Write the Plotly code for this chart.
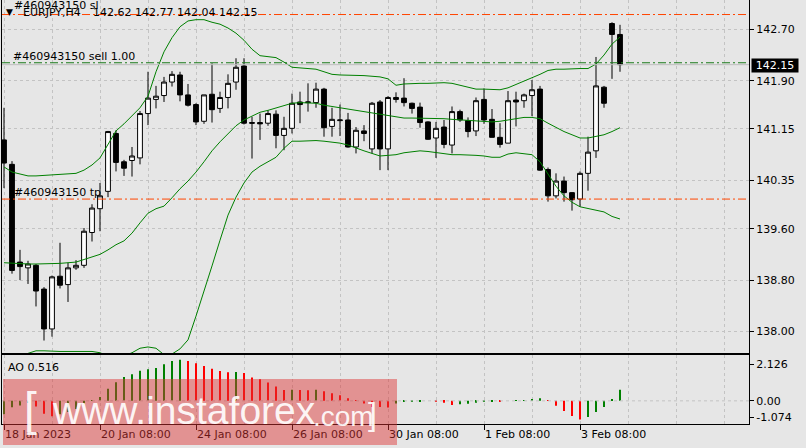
import plotly.graph_objects as go

# ---------------- data ----------------
bar_index = list(range(78))

open_ = [140.98, 140.60, 139.08, 138.99, 139.03, 138.66, 138.04, 138.86, 138.73, 138.99,
         139.03, 139.54, 139.91, 140.18, 141.08, 140.64, 140.66, 140.70, 141.39, 141.61,
         141.67, 141.88, 141.99, 141.68, 141.53, 141.27, 141.69, 141.47, 141.64, 141.88,
         142.13, 141.25, 141.25, 141.24, 141.38, 141.05, 141.16, 141.57, 141.56, 141.56,
         141.77, 141.19, 141.28, 141.29, 140.87, 141.12, 140.84, 141.57, 140.84, 141.64,
         141.63, 141.55, 141.49, 141.26, 141.01, 141.18, 140.90, 141.42, 141.28, 141.12,
         141.61, 141.30, 141.02, 140.93, 141.60, 141.59, 141.67, 141.77, 140.52, 140.11,
         140.34, 140.16, 140.06, 140.46, 140.81, 141.80, 142.79, 142.62]
high = [141.48, 140.65, 139.27, 139.10, 139.05, 138.69, 138.87, 139.38, 139.07, 139.11,
        139.61, 139.98, 140.31, 141.12, 141.13, 140.67, 140.87, 141.43, 142.04, 141.82,
        141.96, 142.05, 142.04, 141.85, 141.55, 141.68, 142.17, 141.73, 142.00, 142.25,
        142.25, 141.34, 141.39, 141.44, 141.44, 141.34, 141.70, 141.73, 141.86, 141.87,
        141.79, 141.48, 141.53, 141.40, 141.18, 141.21, 141.57, 141.60, 141.66, 141.72,
        141.94, 141.56, 141.56, 141.27, 141.26, 141.29, 141.50, 141.45, 141.33, 141.64,
        141.78, 141.46, 141.24, 141.74, 141.73, 141.70, 141.91, 141.82, 140.55, 140.46,
        140.41, 140.17, 140.49, 141.03, 142.27, 141.82, 142.81, 142.77]
low = [140.23, 138.90, 138.80, 138.74, 138.39, 137.86, 137.92, 138.67, 138.46, 138.96,
       138.99, 139.40, 139.56, 140.09, 140.49, 140.42, 140.41, 140.60, 141.21, 141.47,
       141.57, 141.81, 141.58, 141.50, 141.21, 141.23, 141.25, 141.40, 141.47, 141.76,
       141.22, 140.69, 140.98, 141.20, 140.85, 140.82, 141.08, 141.24, 141.42, 141.48,
       141.03, 141.03, 141.04, 140.86, 140.77, 140.96, 140.77, 140.51, 140.51, 141.56,
       141.50, 141.39, 141.17, 140.98, 140.70, 140.85, 140.77, 141.26, 141.02, 141.04,
       141.23, 141.02, 140.86, 140.93, 141.19, 141.48, 141.35, 140.50, 140.02, 140.07,
       140.02, 139.88, 139.94, 140.19, 140.70, 141.48, 141.93, 142.04]
close = [140.62, 138.95, 139.01, 139.05, 138.63, 138.04, 138.85, 138.72, 138.99, 139.03,
         139.56, 139.92, 140.11, 141.11, 140.63, 140.54, 140.73, 141.39, 141.63, 141.66,
         141.88, 142.00, 141.68, 141.52, 141.26, 141.68, 141.45, 141.64, 141.86, 142.11,
         141.24, 141.24, 141.23, 141.39, 141.05, 141.16, 141.55, 141.53, 141.57, 141.77,
         141.17, 141.30, 141.29, 140.87, 141.13, 141.08, 141.55, 140.84, 141.64, 141.61,
         141.56, 141.47, 141.25, 140.99, 141.16, 140.91, 141.42, 141.29, 141.11, 141.59,
         141.29, 141.02, 140.91, 141.59, 141.57, 141.68, 141.76, 140.51, 140.11, 140.34,
         140.16, 140.05, 140.46, 140.79, 141.82, 141.55, 142.62, 142.15]

bb_upper = [140.56, 140.48, 140.45, 140.42, 140.42, 140.43, 140.43, 140.44, 140.45, 140.46,
            140.51, 140.59, 140.70, 140.92, 141.12, 141.23, 141.35, 141.48, 141.66, 142.04,
            142.35, 142.57, 142.74, 142.83, 142.85, 142.85, 142.81, 142.78, 142.72, 142.64,
            142.53, 142.39, 142.29, 142.27, 142.26, 142.19, 142.11, 142.10, 142.09, 142.08,
            142.04, 142.00, 141.99, 141.99, 141.99, 141.98, 141.97, 141.96, 141.93, 141.83,
            141.85, 141.86, 141.86, 141.86, 141.87, 141.87, 141.86, 141.83, 141.81, 141.77,
            141.77, 141.77, 141.76, 141.79, 141.84, 141.89, 141.94, 142.00, 142.06, 142.08,
            142.08, 142.09, 142.09, 142.09, 142.16, 142.30, 142.47, 142.58]
bb_middle = [139.07, 139.06, 139.05, 139.05, 139.05, 139.05, 139.05, 139.06, 139.07, 139.08,
             139.12, 139.16, 139.20, 139.27, 139.35, 139.41, 139.53, 139.69, 139.84, 139.91,
             139.95, 140.08, 140.22, 140.34, 140.48, 140.64, 140.81, 140.95, 141.07, 141.20,
             141.29, 141.35, 141.41, 141.44, 141.48, 141.52, 141.55, 141.56, 141.56, 141.55,
             141.52, 141.50, 141.48, 141.45, 141.43, 141.41, 141.39, 141.37, 141.35, 141.34,
             141.32, 141.32, 141.32, 141.32, 141.31, 141.31, 141.30, 141.29, 141.28, 141.27,
             141.27, 141.26, 141.27, 141.29, 141.31, 141.33, 141.33, 141.31, 141.24, 141.17,
             141.11, 141.06, 141.01, 141.01, 141.03, 141.06, 141.11, 141.17]
bb_lower = [137.56, 137.60, 137.63, 137.66, 137.70, 137.70, 137.69, 137.69, 137.69, 137.69,
            137.69, 137.69, 137.67, 137.62, 137.59, 137.62, 137.67, 137.74, 137.76, 137.74,
            137.64, 137.65, 137.73, 137.87, 138.24, 138.62, 139.02, 139.42, 139.81, 140.09,
            140.31, 140.48, 140.57, 140.64, 140.71, 140.85, 140.96, 140.96, 140.97, 140.97,
            140.96, 140.95, 140.93, 140.90, 140.85, 140.81, 140.77, 140.73, 140.74, 140.75,
            140.78, 140.80, 140.81, 140.80, 140.78, 140.76, 140.75, 140.75, 140.75, 140.74,
            140.73, 140.71, 140.71, 140.76, 140.78, 140.77, 140.75, 140.64, 140.45, 140.26,
            140.11, 140.01, 139.94, 139.91, 139.88, 139.86, 139.79, 139.75]

ao_values = [-0.62, -0.30, -0.22, -0.10, -0.26, -0.60, -0.72, -0.62, -0.52, -0.38,
             -0.14, 0.02, 0.18, 0.56, 0.86, 1.10, 1.23, 1.39, 1.46, 1.52,
             1.70, 1.85, 1.90, 1.85, 1.74, 1.62, 1.49, 1.38, 1.33, 1.34,
             1.29, 1.08, 1.00, 0.85, 0.66, 0.50, 0.51, 0.50, 0.49, 0.52,
             0.44, 0.35, 0.26, 0.12, 0.03, -0.12, -0.28, -0.29, -0.31, -0.12,
             -0.05, -0.03, -0.02, 0.00, -0.01, -0.09, -0.19, -0.16, -0.14, -0.09,
             -0.03, -0.02, -0.03, 0.00, 0.01, 0.02, 0.07, 0.12, 0.03, -0.23,
             -0.47, -0.70, -0.86, -0.75, -0.52, -0.29, 0.08, 0.516]

price_ticks = [142.70, 141.90, 141.15, 140.35, 139.60, 138.80, 138.00]
date_tick_bars = [0, 12, 24, 36, 48, 60, 72]
date_tick_labels = ["18 Jan 2023", "20 Jan 08:00", "24 Jan 08:00", "26 Jan 08:00",
                    "30 Jan 08:00", "1 Feb 08:00", "3 Feb 08:00"]
grid_only_bars = [6, 18, 30, 42, 54, 66, 78, 84, 90]

sl_level = 142.93
sell_level = 142.18
tp_level = 140.06
bid_price = 142.15
ao_max, ao_min = 2.126, -1.074
ao_tick_labels = ["2.126", "0.00", "-1.074"]
header_symbol = "EURJPY,H4"
header_ohlc = "142.62 142.77 142.04 142.15"
order_id = "#460943150"

# ---------------- layout helpers ----------------
W, H = 806, 448
def px(x):
    return x / W
def py(y):
    return 1 - y / H

FONT = "DejaVu Sans"
BG = "#e6e6e6"
GRID = "#c3c3c3"
GREEN = "#008000"
RED = "#ff0000"
ORANGE = "#ff4500"
DASHDOT = "8px,3px,2px,3px"

X_LEFT, X_RIGHT = 2, 749
MAIN_TOP, MAIN_BOT = 0, 353
AO_TOP, AO_BOT = 355, 424
X_RANGE = [-0.25, 93.125]
Y_RANGE = [137.666, 143.156]

fig = go.Figure()

fig.add_trace(go.Candlestick(
    x=bar_index, open=open_, high=high, low=low, close=close,
    increasing=dict(line=dict(color="black", width=1), fillcolor="white"),
    decreasing=dict(line=dict(color="black", width=1), fillcolor="black"),
    whiskerwidth=0, xaxis="x", yaxis="y", hoverinfo="skip"))

for band in (bb_upper, bb_middle, bb_lower):
    fig.add_trace(go.Scatter(x=bar_index, y=band, mode="lines",
                             line=dict(color=GREEN, width=1),
                             xaxis="x", yaxis="y", hoverinfo="skip"))

ao_colors = [GREEN if i == 0 or ao_values[i] > ao_values[i - 1] else RED
             for i in range(len(ao_values))]
fig.add_trace(go.Bar(x=bar_index, y=ao_values, width=0.14,
                     marker=dict(color=ao_colors, line=dict(width=0)),
                     xaxis="x2", yaxis="y2", hoverinfo="skip"))

tickfont = dict(family=FONT, size=11, color="black")
grid_common = dict(showgrid=True, gridcolor=GRID, griddash="3px,3px", gridwidth=1)

def ao_pos(ypix):
    return ao_max - (ypix - AO_TOP) / (AO_BOT - AO_TOP) * (ao_max - ao_min)

xaxis_common = dict(domain=[px(X_LEFT), px(X_RIGHT)], range=X_RANGE, automargin=False,
                    showline=True, linecolor="black", linewidth=1, mirror=True,
                    zeroline=False, fixedrange=True,
                    minor=dict(tickvals=grid_only_bars, showgrid=True, gridcolor=GRID,
                               griddash="3px,3px", ticks=""),
                    **grid_common)

fig.update_layout(
    width=W, height=H, margin=dict(l=0, r=0, t=0, b=0, pad=0, autoexpand=False),
    paper_bgcolor=BG, plot_bgcolor=BG, showlegend=False,
    boxgap=0.25, boxgroupgap=0.2,
    xaxis=dict(anchor="y", tickvals=date_tick_bars, showticklabels=False, ticks="",
               rangeslider=dict(visible=False), **xaxis_common),
    xaxis2=dict(anchor="y2", tickvals=date_tick_bars, ticktext=date_tick_labels,
                ticks="outside", ticklen=5, tickcolor="black",
                ticklabelposition="outside right", tickfont=tickfont, **xaxis_common),
    yaxis=dict(domain=[py(MAIN_BOT), py(MAIN_TOP)], range=Y_RANGE, anchor="x", side="right",
               tickvals=price_ticks, ticktext=[f"{v:.2f}" for v in price_ticks],
               ticks="outside", ticklen=4, tickcolor="black", tickfont=tickfont,
               showline=True, linecolor="black", mirror=True, zeroline=False,
               automargin=False, fixedrange=True, **grid_common),
    yaxis2=dict(domain=[py(AO_BOT), py(AO_TOP)], range=[ao_min, ao_max], anchor="x2",
                side="right", tickvals=[ao_pos(364), 0, ao_pos(417)], ticktext=ao_tick_labels,
                ticks="outside", ticklen=4, tickcolor="black", tickfont=tickfont,
                showgrid=False, showline=True, linecolor="black", mirror=True,
                zeroline=False, automargin=False, fixedrange=True),
)

shapes = []
def hline(level, color, dash, yref="y"):
    shapes.append(dict(type="line", xref="paper", x0=px(X_LEFT), x1=px(X_RIGHT),
                       yref=yref, y0=level, y1=level, line=dict(color=color, width=1, dash=dash)))

hline(0, GRID, "3px,3px", yref="y2")
hline(bid_price, "#bdbdbd", "solid")
hline(sl_level, ORANGE, DASHDOT)
hline(sell_level, "#1a7a1a", DASHDOT)
hline(tp_level, ORANGE, DASHDOT)

# watermark box
shapes.append(dict(type="rect", xref="paper", yref="paper",
                   x0=px(3), x1=px(397), y0=py(445), y1=py(379),
                   fillcolor="rgba(220,50,50,0.47)", line=dict(width=0), layer="above"))
fig.update_layout(shapes=shapes)

ann = []
def text(x, y, s, size=11, color="black", family=FONT, **kw):
    d = dict(xref="paper", yref="paper", x=px(x), y=py(y), text=s, showarrow=False,
             xanchor="left", yanchor="middle", font=dict(family=family, size=size, color=color))
    d.update(kw)
    ann.append(d)

text(12, 5, f"{order_id} sl")
text(4, 12, "▼", size=9)
text(21, 12.5, header_symbol)
text(91, 12.5, header_ohlc)
text(11, 56, f"{order_id} sell 1.00")
text(12, 192.5, f"{order_id} tp")
text(6, 367.5, f"AO {ao_values[-1]:.3f}")
ann.append(dict(xref="paper", yref="paper", x=px(751), y=py(65), text=f"{bid_price:.2f}",
                showarrow=False, xanchor="left", yanchor="middle", bgcolor="black",
                width=46, height=13, align="center", borderpad=0,
                font=dict(family=FONT, size=11, color="white")))

# watermark text
WM = "rgba(255,255,255,0.92)"
WMF = "Liberation Sans, Arial, sans-serif"
text(22, 409, "[", size=46, color=WM, family=WMF)
text(50, 410, "www.instaforex", size=39, color=WM, family=WMF)
text(311, 416, ".com", size=28, color=WM, family=WMF)
text(366, 414, "]", size=32, color=WM, family=WMF)

fig.update_layout(annotations=ann)

fig.write_html("out.html", config={"displayModeBar": False},
               post_script="document.body.style.margin='0';document.body.style.overflow='hidden';")
